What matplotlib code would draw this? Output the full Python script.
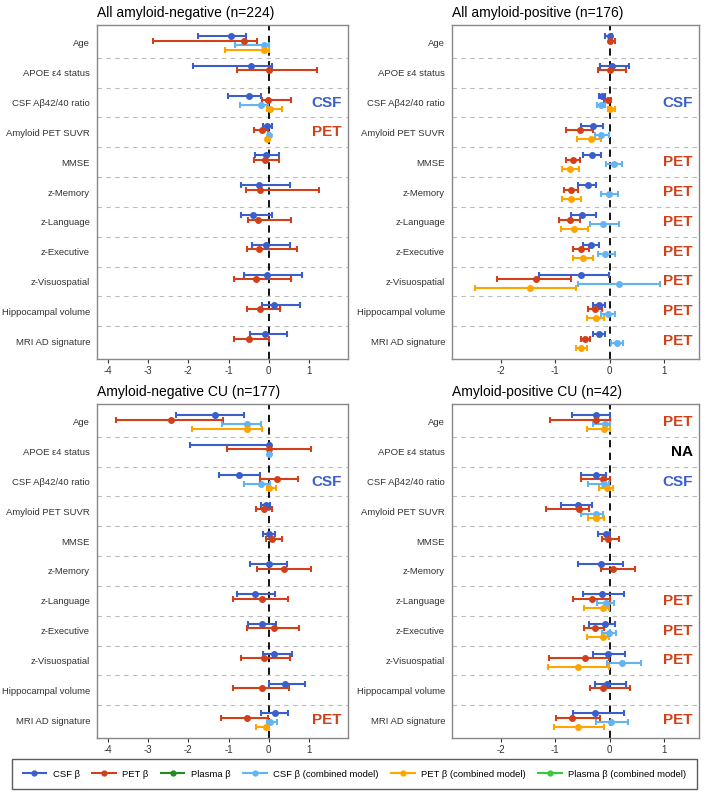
import matplotlib
matplotlib.use("Agg")
import matplotlib.pyplot as plt
from matplotlib.lines import Line2D
import numpy as np

plt.rcParams['font.family'] = ['Liberation Sans', 'DejaVu Sans']

# rows (top to bottom)
variables = ["Age", "APOE \u03b54 status", "CSF A\u03b242/40 ratio", "Amyloid PET SUVR", "MMSE",
             "z-Memory", "z-Language", "z-Executive", "z-Visuospatial",
             "Hippocampal volume", "MRI AD signature"]

# (estimate, lower, upper) per row; None = not estimated
# --- All amyloid-negative (n=224)
neg_csf = [(-0.95, -1.77, -0.56), (-0.45, -1.89, 0.08), (-0.49, -1.02, -0.19), (-0.05, -0.15, 0.09),
           (-0.06, -0.35, 0.25), (-0.24, -0.70, 0.53), (-0.38, -0.70, 0.07), (-0.08, -0.42, 0.54),
           (-0.05, -0.61, 0.82), (0.13, -0.17, 0.78), (-0.10, -0.46, 0.46)]
neg_pet = [(-0.61, -2.89, -0.29), (0.0, -0.78, 1.19), (-0.02, -0.17, 0.56), (-0.17, -0.37, -0.02),
           (-0.09, -0.37, 0.25), (-0.21, -0.56, 1.25), (-0.27, -0.51, 0.55), (-0.25, -0.54, 0.69),
           (-0.32, -0.87, 0.55), (-0.23, -0.54, 0.29), (-0.49, -0.87, 0.0)]
neg_csf_c = [(-0.12, -0.85, 0.0), None, (-0.19, -0.71, -0.02), (0.0, -0.01, 0.01),
             None, None, None, None, None, None, None]
neg_pet_c = [(-0.12, -1.08, 0.0), None, (0.02, -0.04, 0.32), (-0.04, -0.05, 0.01),
             None, None, None, None, None, None, None]

# --- All amyloid-positive (n=176)
pos_csf = [(0.0, -0.09, 0.04), (0.05, -0.18, 0.36), (-0.14, -0.20, -0.08), (-0.31, -0.53, -0.13),
           (-0.33, -0.50, -0.17), (-0.40, -0.58, -0.26), (-0.51, -0.72, -0.26), (-0.35, -0.49, -0.19),
           (-0.53, -1.31, -0.01), (-0.19, -0.30, -0.08), (-0.19, -0.30, -0.09)]
pos_pet = [(0.01, -0.02, 0.10), (0.0, -0.21, 0.30), (-0.04, -0.10, 0.02), (-0.55, -0.80, -0.30),
           (-0.67, -0.80, -0.55), (-0.71, -0.85, -0.58), (-0.74, -0.94, -0.55), (-0.53, -0.68, -0.39),
           (-1.36, -2.07, -0.72), (-0.28, -0.40, -0.15), (-0.45, -0.53, -0.36)]
pos_csf_c = [None, None, (-0.16, -0.23, -0.09), (-0.16, -0.28, -0.01), (0.08, -0.07, 0.23),
             (-0.01, -0.17, 0.15), (-0.13, -0.36, 0.17), (-0.08, -0.22, 0.10), (0.17, -0.58, 0.93),
             (-0.03, -0.17, 0.10), (0.13, 0.03, 0.25)]
pos_pet_c = [None, None, (0.01, -0.04, 0.10), (-0.34, -0.60, -0.17), (-0.73, -0.87, -0.57),
             (-0.71, -0.87, -0.53), (-0.66, -0.89, -0.40), (-0.49, -0.67, -0.31), (-1.46, -2.47, -0.63),
             (-0.26, -0.42, -0.10), (-0.52, -0.63, -0.42)]

# --- Amyloid-negative CU (n=177)
negcu_csf = [(-1.33, -2.31, -0.61), (0.0, -1.96, 0.02), (-0.75, -1.24, -0.23), (-0.07, -0.20, 0.02),
             (0.0, -0.15, 0.15), (0.0, -0.46, 0.46), (-0.33, -0.80, 0.16), (-0.17, -0.51, 0.19),
             (0.12, -0.15, 0.59), (0.41, 0.0, 0.90), (0.16, -0.20, 0.48)]
negcu_pet = [(-2.43, -3.81, -1.15), (0.0, -1.04, 1.05), (0.20, -0.22, 0.72), (-0.13, -0.32, 0.08),
             (0.09, -0.08, 0.34), (0.37, -0.29, 1.04), (-0.17, -0.88, 0.47), (0.13, -0.55, 0.75),
             (-0.11, -0.69, 0.52), (-0.17, -0.90, 0.50), (-0.54, -1.18, -0.02)]
negcu_csf_c = [(-0.55, -1.16, -0.19), (0.0, -0.01, 0.01), (-0.19, -0.61, 0.02), None, None,
               None, None, None, None, None, (0.02, -0.05, 0.21)]
negcu_pet_c = [(-0.55, -1.90, -0.16), None, (0.0, -0.05, 0.18), None, None,
               None, None, None, None, None, (-0.08, -0.32, 0.0)]

# --- Amyloid-positive CU (n=42)
poscu_csf = [(-0.25, -0.69, 0.0), None, (-0.25, -0.53, -0.07), (-0.58, -0.90, -0.32),
             (-0.07, -0.21, 0.01), (-0.17, -0.58, 0.25), (-0.14, -0.50, 0.26), (-0.09, -0.39, 0.09),
             (-0.04, -0.30, 0.28), (-0.06, -0.27, 0.30), (-0.27, -0.67, 0.26)]
poscu_pet = [(-0.26, -1.10, 0.0), None, (-0.12, -0.53, 0.01), (-0.56, -1.18, -0.39),
             (-0.04, -0.14, 0.17), (0.06, -0.16, 0.46), (-0.33, -0.67, 0.0), (-0.28, -0.48, -0.10),
             (-0.45, -1.11, -0.01), (-0.12, -0.36, 0.38), (-0.70, -0.98, -0.18)]
poscu_csf_c = [(-0.09, -0.31, 0.0), None, (-0.11, -0.40, -0.02), (-0.26, -0.53, -0.13), None,
               None, (-0.07, -0.24, 0.08), (-0.02, -0.14, 0.12), (0.23, -0.06, 0.58),
               None, (0.02, -0.25, 0.34)]
poscu_pet_c = [(-0.11, -0.41, 0.0), None, (-0.05, -0.20, 0.06), (-0.25, -0.40, -0.11), None,
               None, (-0.12, -0.47, -0.01), (-0.13, -0.42, -0.02), (-0.58, -1.14, -0.01),
               None, (-0.59, -1.02, -0.11)]

# annotation labels at the right side of each panel
neg_labels = {2: "CSF", 3: "PET"}
pos_labels = {2: "CSF", 4: "PET", 5: "PET", 6: "PET", 7: "PET", 8: "PET", 9: "PET", 10: "PET"}
negcu_labels = {2: "CSF", 10: "PET"}
poscu_labels = {0: "PET", 1: "NA", 2: "CSF", 6: "PET", 7: "PET", 8: "PET", 10: "PET"}

kolory = {"CSF \u03b2": "#3A5FCD", "PET \u03b2": "#D2401A", "Plasma \u03b2": "#228B22",
          "CSF \u03b2 (combined model)": "#63B4F2", "PET \u03b2 (combined model)": "#FFA500",
          "Plasma \u03b2 (combined model)": "#32CD32"}
label_kolory = {"CSF": "#3A5FCD", "PET": "#D2401A", "NA": "black"}
offsets = [-0.225, -0.075, 0.075, 0.225]


def rysujSerie(ax, dane, off, kolor):
    for i, d in enumerate(dane):
        if d is None:
            continue
        est, lo, hi = d
        ax.errorbar(est, i + off, xerr=[[est - lo], [hi - est]], fmt='o', color=kolor,
                    ms=4, lw=1.5, capsize=2, capthick=1.5, zorder=3)


def rysujPanel(ax, title, serie, labels, xlim, xticks):
    for off, (nazwa, dane) in zip(offsets, serie):
        rysujSerie(ax, dane, off, kolory[nazwa])
    for k in range(len(variables) - 1):
        ax.axhline(k + 0.5, color='#BBBBBB', lw=0.8, ls=(0, (4, 4)), zorder=1)
    ax.axvline(0, color='black', lw=1.3, ls=(0, (4, 3)), zorder=2)
    for row, txt in labels.items():
        ax.text(0.975, row, txt, transform=ax.get_yaxis_transform(), ha='right', va='center',
                fontsize=11, fontweight='bold', color=label_kolory[txt])
    ax.set_ylim(len(variables) - 0.4, -0.6)
    ax.set_yticks(range(len(variables)))
    ax.set_yticklabels(variables, fontsize=6.8, color='#333333')
    ax.tick_params(axis='y', length=0, pad=5)
    ax.set_xlim(*xlim)
    ax.set_xticks(xticks)
    ax.set_xticklabels([str(t) for t in xticks], fontsize=7, color='#333333')
    ax.tick_params(axis='x', length=3, color='#333333', pad=2)
    for s in ax.spines.values():
        s.set_color('#888888')
        s.set_linewidth(1.0)
    ax.set_title(title, loc='left', fontsize=10, pad=6)


fig = plt.figure(figsize=(7.09, 7.93), dpi=100)
W, H = 709.0, 793.0
ax1 = fig.add_axes([97 / W, (H - 359) / H, 251 / W, 334 / H])
ax2 = fig.add_axes([452 / W, (H - 359) / H, 247 / W, 334 / H])
ax3 = fig.add_axes([97 / W, (H - 738) / H, 251 / W, 334 / H])
ax4 = fig.add_axes([452 / W, (H - 738) / H, 247 / W, 334 / H])

nazwy = ["CSF \u03b2", "PET \u03b2", "CSF \u03b2 (combined model)", "PET \u03b2 (combined model)"]
rysujPanel(ax1, "All amyloid-negative (n=224)", list(zip(nazwy, [neg_csf, neg_pet, neg_csf_c, neg_pet_c])),
           neg_labels, (-4.27, 1.97), [-4, -3, -2, -1, 0, 1])
rysujPanel(ax2, "All amyloid-positive (n=176)", list(zip(nazwy, [pos_csf, pos_pet, pos_csf_c, pos_pet_c])),
           pos_labels, (-2.90, 1.64), [-2, -1, 0, 1])
rysujPanel(ax3, "Amyloid-negative CU (n=177)", list(zip(nazwy, [negcu_csf, negcu_pet, negcu_csf_c, negcu_pet_c])),
           negcu_labels, (-4.27, 1.97), [-4, -3, -2, -1, 0, 1])
rysujPanel(ax4, "Amyloid-positive CU (n=42)", list(zip(nazwy, [poscu_csf, poscu_pet, poscu_csf_c, poscu_pet_c])),
           poscu_labels, (-2.90, 1.64), [-2, -1, 0, 1])

uchwyty = [Line2D([0], [0], color=c, marker='o', ms=3.5, lw=1.5) for c in kolory.values()]
fig.legend(uchwyty, list(kolory.keys()), loc='lower center', ncol=6,
           bbox_to_anchor=(0.5, 4 / H), fontsize=6.8, frameon=True, borderpad=1.1,
           fancybox=False, edgecolor='#333333', handlelength=2.5, handletextpad=0.7,
           columnspacing=1.3, borderaxespad=0)

plt.savefig("out.png", dpi=100)
